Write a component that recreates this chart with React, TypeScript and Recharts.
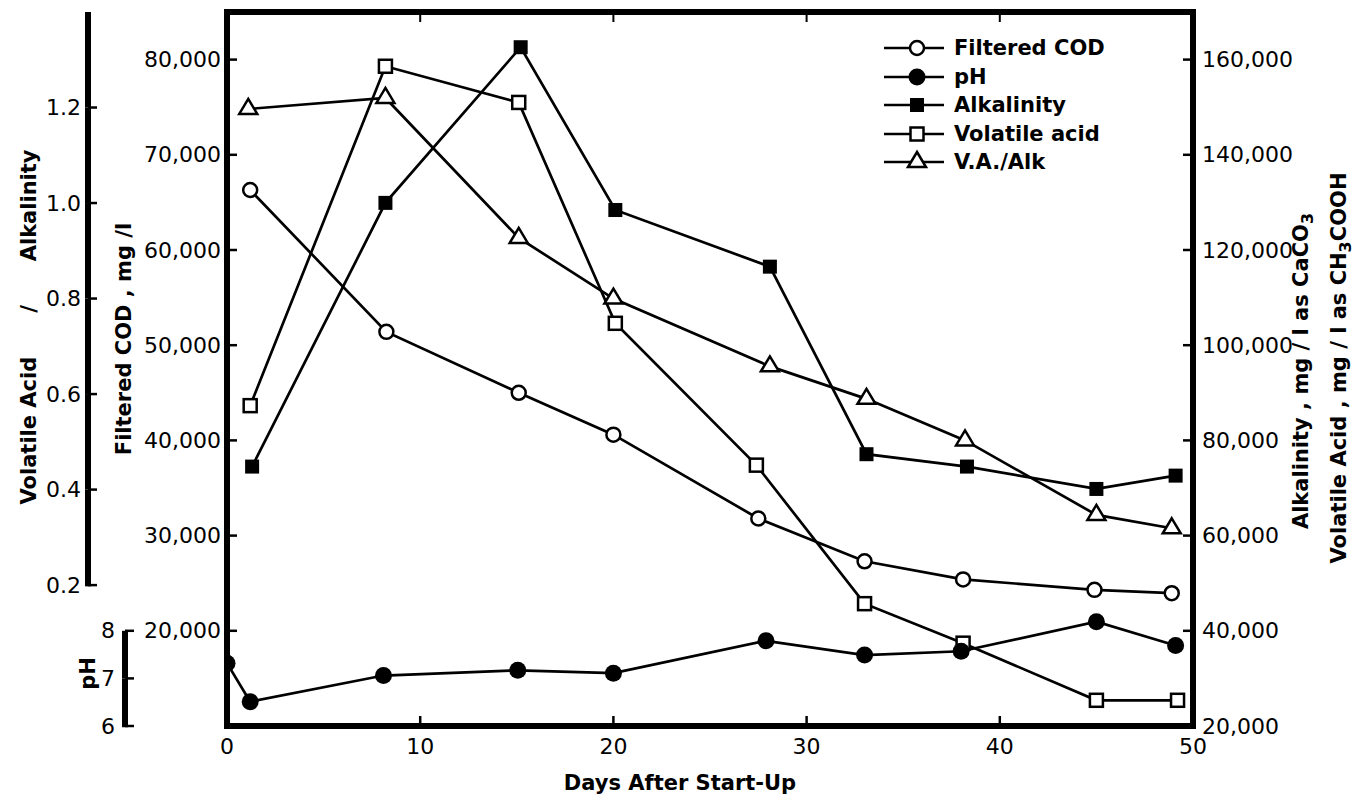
import React from 'react';
import { ComposedChart, Line, XAxis, YAxis, Legend } from 'recharts';

const CHART_W = 1366;
const CHART_H = 802;
const PLOT_TOP = 12;
const TOP_AXIS_H = 1;
const X_AXIS_H = 76;
const PLOT_H = CHART_H - PLOT_TOP - X_AXIS_H;

const FONT = '"DejaVu Sans", sans-serif';
const LINE_W = 2.7;
const FRAME = { stroke: '#000', strokeWidth: 6, strokeLinecap: 'square' as const };

// axis ranges and ticks
const DAY_DOMAIN: [number, number] = [0, 50];
const COD_DOMAIN: [number, number] = [10000, 85000];
const ALK_DOMAIN: [number, number] = [20000, 170000];
const RATIO_DOMAIN: [number, number] = [-0.095, 1.4];
const PH_DOMAIN: [number, number] = [6, 21];

const DAY_TICKS = [0, 10, 20, 30, 40, 50];
const TOP_TICKS = [10, 20, 30, 40];
const COD_TICKS = [20000, 30000, 40000, 50000, 60000, 70000, 80000];
const ALK_TICKS = [20000, 40000, 60000, 80000, 100000, 120000, 140000, 160000];
const RATIO_TICKS = [0.2, 0.4, 0.6, 0.8, 1.0, 1.2];
const PH_TICKS = [6, 7, 8];

// series
const codDays = [1.2, 8.25, 15.1, 20, 27.5, 33, 38.1, 44.9, 48.9];
const codValues = [66300, 51400, 45000, 40600, 31800, 27300, 25400, 24300, 23950];

const phDays = [0, 1.2, 8.1, 15.05, 20, 27.9, 33, 38, 45, 49.1];
const phValues = [7.32, 6.51, 7.06, 7.17, 7.11, 7.79, 7.49, 7.57, 8.19, 7.69];

const alkDays = [1.3, 8.2, 15.2, 20.1, 28.1, 33.1, 38.3, 45, 49.1];
const alkValues = [74500, 129900, 162600, 128400, 116500, 77100, 74500, 69800, 72600];

const vaDays = [1.2, 8.2, 15.1, 20.1, 27.4, 33, 38.1, 45, 49.2];
const vaValues = [87300, 158600, 151000, 104600, 74800, 45700, 37400, 25400, 25400];

const ratioDays = [1.1, 8.2, 15.1, 20, 28.1, 33.1, 38.2, 45, 48.9];
const ratioValues = [1.197, 1.22, 0.927, 0.8, 0.658, 0.59, 0.503, 0.347, 0.319];

const toPoints = (days: number[], values: number[]) => days.map((day, i) => ({ day, value: values[i] }));

const codData = toPoints(codDays, codValues);
const phData = toPoints(phDays, phValues);
const alkData = toPoints(alkDays, alkValues);
const vaData = toPoints(vaDays, vaValues);
const ratioData = toPoints(ratioDays, ratioValues);

const withCommas = (v: number) => String(v).replace(/\B(?=(\d{3})+(?!\d))/g, ',');

const RATIO_PX = PLOT_H / (RATIO_DOMAIN[1] - RATIO_DOMAIN[0]);
const PH_PX = PLOT_H / (PH_DOMAIN[1] - PH_DOMAIN[0]);

// markers
type Pt = { cx: number; cy: number; index?: number };

const OpenCircle = ({ cx, cy }: Pt) => (
  <circle cx={cx} cy={cy} r={7} fill="#fff" stroke="#000" strokeWidth={2.5} />
);
const FilledCircle = ({ cx, cy }: Pt) => <circle cx={cx} cy={cy} r={8.5} fill="#000" />;
const FilledSquare = ({ cx, cy }: Pt) => <rect x={cx - 7} y={cy - 7} width={14} height={14} fill="#000" />;
const OpenSquare = ({ cx, cy }: Pt) => (
  <rect x={cx - 6.5} y={cy - 6.5} width={13} height={13} fill="#fff" stroke="#000" strokeWidth={2.5} />
);
const OpenTriangle = ({ cx, cy }: Pt) => (
  <polygon
    points={`${cx},${cy - 10} ${cx + 9},${cy + 5} ${cx - 9},${cy + 5}`}
    fill="#fff"
    stroke="#000"
    strokeWidth={2.5}
    strokeLinejoin="miter"
  />
);

const dotOf = (Marker: React.FC<Pt>, tag: string) => (p: any) => (
  <Marker key={`${tag}-${p.index}`} cx={p.cx} cy={p.cy} />
);

const LEGEND = [
  { name: 'Filtered COD', Marker: OpenCircle },
  { name: 'pH', Marker: FilledCircle },
  { name: 'Alkalinity', Marker: FilledSquare },
  { name: 'Volatile acid', Marker: OpenSquare },
  { name: 'V.A./Alk', Marker: OpenTriangle },
];

const LegendBox = () => (
  <div style={{ fontFamily: FONT, fontWeight: 'bold', fontSize: 21, color: '#000' }}>
    {LEGEND.map(({ name, Marker }) => (
      <div key={name} style={{ display: 'flex', alignItems: 'center', height: 28.5 }}>
        <svg width={62} height={28} style={{ marginRight: 8, overflow: 'visible' }}>
          <line x1={0} x2={60} y1={14} y2={14} stroke="#000" strokeWidth={2.5} />
          <Marker cx={33} cy={14} />
        </svg>
        <span style={{ lineHeight: '28px', whiteSpace: 'nowrap' }}>{name}</span>
      </div>
    ))}
  </div>
);

const textProps = { fontFamily: FONT, fontSize: 22, fill: '#000' };

const VTitle = ({ cx, cy, children }: { cx: number; cy: number; children: React.ReactNode }) => (
  <text
    x={cx}
    y={cy}
    transform={`rotate(-90 ${cx} ${cy})`}
    textAnchor="middle"
    dy="0.36em"
    fontFamily={FONT}
    fontWeight="bold"
    fontSize={21}
    fill="#000"
  >
    {children}
  </text>
);

// ticks
const DayTick = (p: any) => {
  const v = p.payload.value;
  const inner = v > DAY_DOMAIN[0] && v < DAY_DOMAIN[1];
  return (
    <g>
      {inner && <line x1={p.x} x2={p.x} y1={p.y} y2={p.y - 10} stroke="#000" strokeWidth={2.5} />}
      <text x={p.x} y={p.y + 28} textAnchor="middle" {...textProps}>
        {v}
      </text>
    </g>
  );
};

const TopTick = (p: any) => (
  <line x1={p.x} x2={p.x} y1={p.y} y2={p.y + 10} stroke="#000" strokeWidth={2} />
);

const CodTick = (p: any) => (
  <g>
    <line x1={p.x} x2={p.x + 10} y1={p.y} y2={p.y} stroke="#000" strokeWidth={2.5} />
    <text x={p.x - 6} y={p.y + 7.5} textAnchor="end" {...textProps}>
      {withCommas(p.payload.value)}
    </text>
  </g>
);

const AlkTick = (p: any) => (
  <g>
    <line x1={p.x} x2={p.x - 10} y1={p.y} y2={p.y} stroke="#000" strokeWidth={2.5} />
    <text x={p.x + 9} y={p.y + 7.5} textAnchor="start" {...textProps}>
      {withCommas(p.payload.value)}
    </text>
  </g>
);

const RatioTick = (p: any) => {
  const v = p.payload.value;
  const step = 0.2 * RATIO_PX;
  const first = v === RATIO_TICKS[0];
  return (
    <g>
      <line x1={p.x} x2={p.x} y1={first ? p.y + 1.25 : p.y} y2={p.y - step} stroke="#000" strokeWidth={6} />
      <line x1={p.x} x2={p.x + 9} y1={p.y} y2={p.y} stroke="#000" strokeWidth={2.5} />
      <text x={p.x - 7} y={p.y + 7.5} textAnchor="end" {...textProps}>
        {Number(v).toFixed(1)}
      </text>
    </g>
  );
};

const PhTick = (p: any) => {
  const v = p.payload.value;
  const top = v === PH_TICKS[PH_TICKS.length - 1];
  const first = v === PH_TICKS[0];
  return (
    <g>
      {!top && (
        <line x1={p.x} x2={p.x} y1={first ? p.y + 1.25 : p.y} y2={p.y - PH_PX} stroke="#000" strokeWidth={6} />
      )}
      <line x1={p.x} x2={p.x + 9} y1={p.y} y2={p.y} stroke="#000" strokeWidth={2.5} />
      <text x={p.x - 10} y={p.y + 7.5} textAnchor="end" {...textProps}>
        {v}
      </text>
    </g>
  );
};

const vb = (p: any) => p.viewBox || p;

export default function App() {
  return (
    <div style={{ position: 'absolute', left: 0, top: 0, background: '#fff' }}>
      <ComposedChart
        width={CHART_W}
        height={CHART_H}
        margin={{ top: PLOT_TOP - TOP_AXIS_H, right: 0, bottom: 0, left: 0 }}
      >
        <XAxis
          xAxisId="days"
          dataKey="day"
          type="number"
          domain={DAY_DOMAIN}
          ticks={DAY_TICKS}
          interval={0}
          allowDataOverflow
          height={X_AXIS_H}
          axisLine={FRAME}
          tickLine={false}
          tickSize={0}
          tickMargin={0}
          tick={DayTick}
          label={(p: any) => {
            const b = vb(p);
            return (
              <text
                x={b.x + b.width / 2 - 30}
                y={b.y + 64}
                textAnchor="middle"
                fontFamily={FONT}
                fontWeight="bold"
                fontSize={21}
                fill="#000"
              >
                Days After Start-Up
              </text>
            );
          }}
        />
        <XAxis
          xAxisId="top"
          orientation="top"
          dataKey="day"
          type="number"
          domain={DAY_DOMAIN}
          ticks={TOP_TICKS}
          interval={0}
          allowDataOverflow
          height={TOP_AXIS_H}
          axisLine={FRAME}
          tickLine={false}
          tickSize={0}
          tickMargin={0}
          tick={TopTick}
        />
        <YAxis
          yAxisId="cod"
          type="number"
          domain={COD_DOMAIN}
          ticks={COD_TICKS}
          interval={0}
          allowDataOverflow
          width={102}
          axisLine={FRAME}
          tickLine={false}
          tickSize={0}
          tickMargin={0}
          tick={CodTick}
          label={(p: any) => {
            const b = vb(p);
            return <VTitle cx={b.x - 2} cy={b.y + b.height / 2 - 30}>Filtered COD , mg /l</VTitle>;
          }}
        />
        <YAxis
          yAxisId="ph"
          type="number"
          domain={PH_DOMAIN}
          ticks={PH_TICKS}
          interval={0}
          allowDataOverflow
          width={37}
          axisLine={false}
          tickLine={false}
          tickSize={0}
          tickMargin={0}
          tick={PhTick}
          label={(p: any) => {
            const b = vb(p);
            return <VTitle cx={b.x - 1} cy={b.y + (PH_DOMAIN[1] - 7) * PH_PX - 5}>pH</VTitle>;
          }}
        />
        <YAxis
          yAxisId="ratio"
          type="number"
          domain={RATIO_DOMAIN}
          ticks={RATIO_TICKS}
          interval={0}
          allowDataOverflow
          width={88}
          axisLine={false}
          tickLine={false}
          tickSize={0}
          tickMargin={0}
          tick={RatioTick}
          label={(p: any) => {
            const b = vb(p);
            return (
              <VTitle cx={b.x + 28} cy={b.y + b.height / 2 - 42}>
                {'Volatile Acid\u00A0\u00A0\u00A0\u00A0\u00A0\u00A0/\u00A0\u00A0\u00A0\u00A0\u00A0\u00A0Alkalinity'}
              </VTitle>
            );
          }}
        />
        <YAxis
          yAxisId="alk"
          orientation="right"
          type="number"
          domain={ALK_DOMAIN}
          ticks={ALK_TICKS}
          interval={0}
          allowDataOverflow
          width={173}
          axisLine={FRAME}
          tickLine={false}
          tickSize={0}
          tickMargin={0}
          tick={AlkTick}
          label={(p: any) => {
            const b = vb(p);
            const cy = b.y + b.height / 2;
            return (
              <g>
                <VTitle cx={b.x + 107} cy={cy + 2}>
                  Alkalinity , mg / l as CaCO
                  <tspan dy={5} fontSize={16}>3</tspan>
                </VTitle>
                <VTitle cx={b.x + 145} cy={cy - 1}>
                  Volatile Acid , mg / l as CH
                  <tspan dy={5} fontSize={16}>3</tspan>
                  <tspan dy={-5}>COOH</tspan>
                </VTitle>
              </g>
            );
          }}
        />
        <Legend
          layout="vertical"
          align="center"
          verticalAlign="middle"
          content={() => <LegendBox />}
          wrapperStyle={{ left: 884, top: 34, width: 300, height: 150 }}
        />
        <Line
          xAxisId="days"
          yAxisId="alk"
          data={vaData}
          dataKey="value"
          name="Volatile acid"
          stroke="#000"
          strokeWidth={LINE_W}
          dot={dotOf(OpenSquare, 'va')}
          activeDot={false}
          isAnimationActive={false}
        />
        <Line
          xAxisId="days"
          yAxisId="alk"
          data={alkData}
          dataKey="value"
          name="Alkalinity"
          stroke="#000"
          strokeWidth={LINE_W}
          dot={dotOf(FilledSquare, 'alk')}
          activeDot={false}
          isAnimationActive={false}
        />
        <Line
          xAxisId="days"
          yAxisId="ratio"
          data={ratioData}
          dataKey="value"
          name="V.A./Alk"
          stroke="#000"
          strokeWidth={LINE_W}
          dot={dotOf(OpenTriangle, 'ratio')}
          activeDot={false}
          isAnimationActive={false}
        />
        <Line
          xAxisId="days"
          yAxisId="cod"
          data={codData}
          dataKey="value"
          name="Filtered COD"
          stroke="#000"
          strokeWidth={LINE_W}
          dot={dotOf(OpenCircle, 'cod')}
          activeDot={false}
          isAnimationActive={false}
        />
        <Line
          xAxisId="days"
          yAxisId="ph"
          data={phData}
          dataKey="value"
          name="pH"
          stroke="#000"
          strokeWidth={LINE_W}
          dot={dotOf(FilledCircle, 'ph')}
          activeDot={false}
          isAnimationActive={false}
        />
      </ComposedChart>
    </div>
  );
}
